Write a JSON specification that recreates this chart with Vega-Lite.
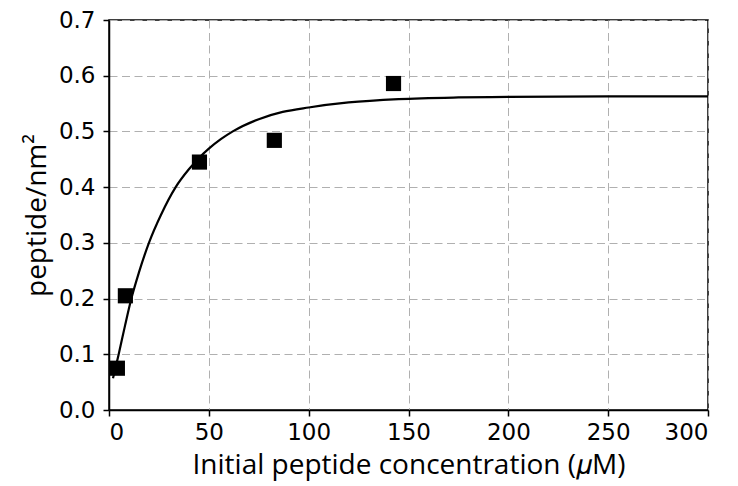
{
  "$schema": "https://vega.github.io/schema/vega-lite/v6.json",
  "width": 599,
  "height": 390,
  "autosize": {"type": "none"},
  "padding": {"left": 109, "top": 20, "right": 30, "bottom": 76},
  "background": "white",
  "config": {
    "view": {"stroke": "black", "strokeWidth": 1.5},
    "font": "Open Sans"
  },
  "datasets": {
    "points": [
      {"x": 4.2, "y": 0.075},
      {"x": 8.2, "y": 0.205},
      {"x": 45.3, "y": 0.445},
      {"x": 82.8, "y": 0.484},
      {"x": 142.5, "y": 0.586}
    ],
    "curve": [
      {"x": 2, "y": 0.057},
      {"x": 3, "y": 0.072},
      {"x": 4.85, "y": 0.1},
      {"x": 6.5, "y": 0.127},
      {"x": 8, "y": 0.151},
      {"x": 11.2, "y": 0.2},
      {"x": 15, "y": 0.247},
      {"x": 20, "y": 0.3},
      {"x": 26, "y": 0.35},
      {"x": 33.4, "y": 0.4},
      {"x": 40, "y": 0.432},
      {"x": 45, "y": 0.452},
      {"x": 50, "y": 0.469},
      {"x": 56, "y": 0.486},
      {"x": 62, "y": 0.5},
      {"x": 75, "y": 0.522},
      {"x": 87, "y": 0.535},
      {"x": 100, "y": 0.543},
      {"x": 120, "y": 0.552},
      {"x": 145, "y": 0.558},
      {"x": 175, "y": 0.561},
      {"x": 200, "y": 0.562},
      {"x": 250, "y": 0.563},
      {"x": 300, "y": 0.563}
    ]
  },
  "encoding": {
    "x": {
      "field": "x", "type": "quantitative",
      "scale": {"domain": [0, 300], "nice": false, "zero": false},
      "axis": {
        "title": "Initial peptide concentration (𝜇M)",
        "values": [0, 50, 100, 150, 200, 250, 300],
        "grid": true, "gridColor": "#b0b0b0", "gridDash": [8, 4.5], "gridWidth": 1,
        "domainColor": "black", "domainWidth": 1.5,
        "tickColor": "black", "tickSize": 6, "tickWidth": 1.5,
        "labelFontSize": 23, "labelColor": "black", "labelPadding": 5, "labelFont": "DejaVu Sans",
        "titleFontSize": 28, "titleFontWeight": "normal", "titleColor": "black", "titlePadding": 7
      }
    },
    "y": {
      "field": "y", "type": "quantitative",
      "scale": {"domain": [0, 0.7], "nice": false},
      "axis": {
        "title": "peptide/nm²",
        "values": [0, 0.1, 0.2, 0.3, 0.4, 0.5, 0.6, 0.7],
        "format": ".1f",
        "grid": true, "gridColor": "#b0b0b0", "gridDash": [8, 4.5], "gridWidth": 1,
        "domainColor": "black", "domainWidth": 1.5,
        "tickColor": "black", "tickSize": 6, "tickWidth": 1.5,
        "labelFontSize": 23, "labelColor": "black", "labelPadding": 8, "labelFont": "DejaVu Sans",
        "titleFontSize": 28, "titleFontWeight": "normal", "titleColor": "black", "titlePadding": 7
      }
    }
  },
  "layer": [
    {
      "data": {"name": "curve"},
      "mark": {"type": "line", "color": "black", "strokeWidth": 2.2, "interpolate": "monotone"},
      "encoding": {}
    },
    {
      "data": {"name": "points"},
      "mark": {"type": "square", "color": "black", "opacity": 1, "size": 230, "filled": true},
      "encoding": {}
    }
  ]
}
